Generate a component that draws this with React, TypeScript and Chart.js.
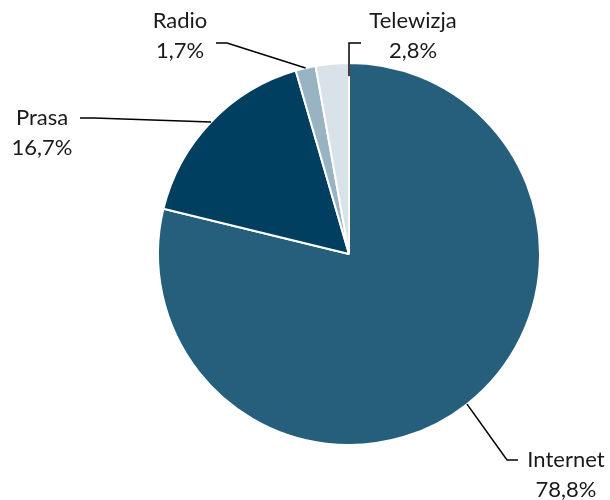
import React, { useEffect, useRef } from "react";
import { Chart, registerables } from "chart.js";

Chart.register(...registerables);

const categories = ["Internet", "Prasa", "Radio", "Telewizja"];
const shares = [78.8, 16.7, 1.7, 2.8];
const percentLabels = ["78,8%", "16,7%", "1,7%", "2,8%"];
const colors = ["#265F7B", "#003F60", "#98B4C3", "#D9E2E8"];

// label layout, offsets from the pie centre (px)
const labelLayout = [
  { angleFrac: 0.5, radiusFrac: 1.0, elbow: [158, 206], end: [169, 206], text: [217, 206] },
  { angleFrac: 0.5, radiusFrac: 1.0, elbow: [-255, -136], end: [-269, -136], text: [-307, -136] },
  { angleFrac: 0.5, radiusFrac: 1.0, elbow: [-122, -211], end: [-133, -211], text: [-169, -233] },
  { angleFrac: 1.0, radiusFrac: 0.93, elbow: [0, -211], end: [12, -211], text: [64, -233] },
];

const FONT = "22px Lato, Carlito, 'Noto Sans', sans-serif";
const LINE_GAP = 29.5;

const leaderPlugin = {
  id: "leaderLabels",
  afterDraw(chart: any) {
    const ctx = chart.ctx;
    const meta = chart.getDatasetMeta(0);
    ctx.save();
    meta.data.forEach((arc: any, i: number) => {
      const L = labelLayout[i];
      const { x, y, startAngle, endAngle, outerRadius } = arc.getProps(
        ["x", "y", "startAngle", "endAngle", "outerRadius"],
        true
      );
      const a = startAngle + (endAngle - startAngle) * L.angleFrac;
      const r = outerRadius * L.radiusFrac;
      const ax = x + Math.cos(a) * r;
      const ay = y + Math.sin(a) * r;
      ctx.strokeStyle = "#000000";
      ctx.lineWidth = 1.5;
      ctx.beginPath();
      ctx.moveTo(ax, ay);
      ctx.lineTo(x + L.elbow[0], y + L.elbow[1]);
      ctx.lineTo(x + L.end[0], y + L.end[1]);
      ctx.stroke();
      ctx.fillStyle = "#1a1a1a";
      ctx.font = FONT;
      ctx.textAlign = "center";
      ctx.textBaseline = "middle";
      ctx.fillText(categories[i], x + L.text[0], y + L.text[1]);
      ctx.fillText(percentLabels[i], x + L.text[0], y + L.text[1] + LINE_GAP);
    });
    ctx.restore();
  },
};

export default function App() {
  const ref = useRef<HTMLCanvasElement>(null);
  useEffect(() => {
    if (!ref.current) return;
    const chart = new Chart(ref.current, {
      type: "pie",
      data: {
        labels: categories,
        datasets: [
          {
            data: shares,
            backgroundColor: colors,
            borderColor: "#FFFFFF",
            borderWidth: 2,
          },
        ],
      },
      options: {
        responsive: false,
        animation: false,
        radius: 191,
        layout: { padding: { left: 158, right: 70, top: 63, bottom: 55 } },
        plugins: {
          legend: { display: false },
          tooltip: { enabled: false },
        },
      } as any,
      plugins: [leaderPlugin],
    });
    return () => chart.destroy();
  }, []);
  return (
    <div style={{ position: "fixed", left: 0, top: 0, width: 610, height: 500, background: "#fff" }}>
      <canvas ref={ref} width={610} height={500} />
    </div>
  );
}
